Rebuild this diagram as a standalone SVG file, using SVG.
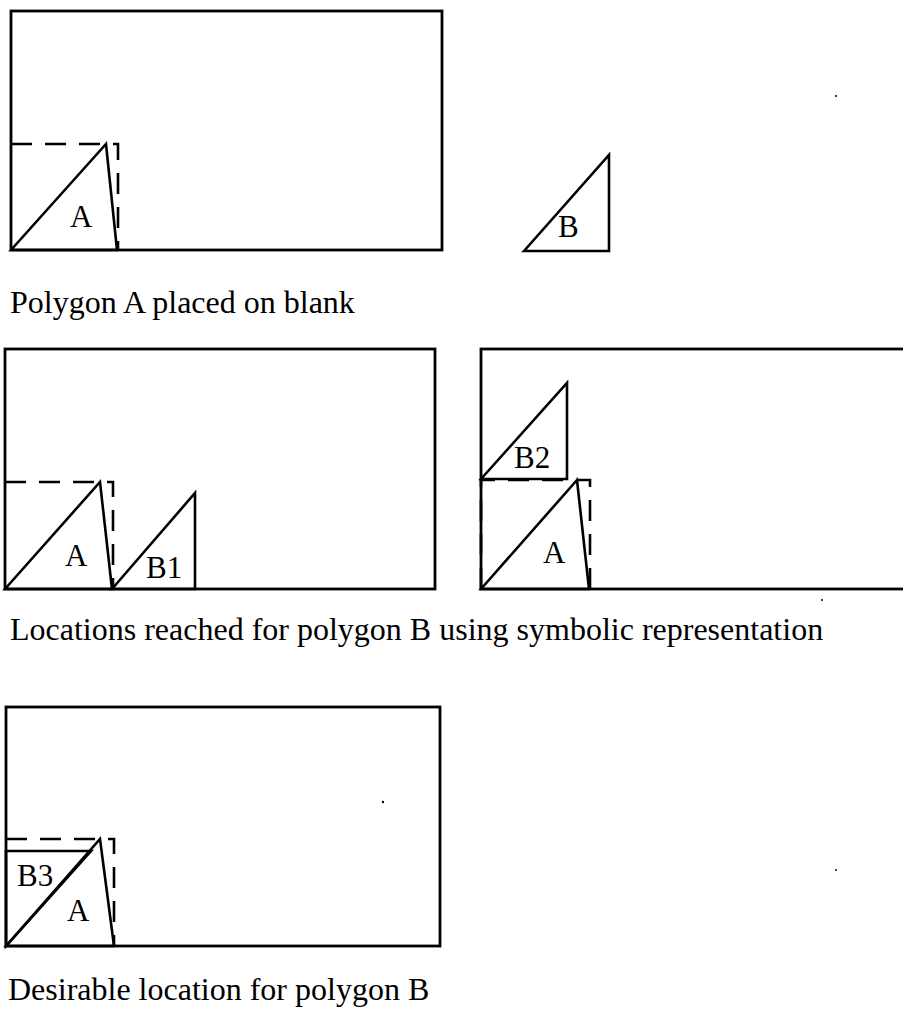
<svg xmlns="http://www.w3.org/2000/svg" width="903" height="1013" viewBox="0 0 903 1013">
<style>
.frame{fill:none;stroke:#000;stroke-width:2.8}
.poly{fill:none;stroke:#000;stroke-width:2.6;stroke-linejoin:miter}
.dash{fill:none;stroke:#000;stroke-width:2.6;stroke-dasharray:21 13}
.lbl{font-family:"Liberation Serif","Times New Roman",serif;font-size:31px;fill:#000}
.cap{font-family:"Liberation Serif","Times New Roman",serif;font-size:32px;fill:#000}
</style>
<rect width="903" height="1013" fill="#fff"/>
<g id="panel1">
  <rect class="frame" x="11" y="11" width="431" height="239"/>
  <g id="p1-A">
    <polygon class="poly" points="11,250 106,144 117,250"/>
    <path class="dash" d="M11,144 H118 V250"/>
    <text class="lbl" x="70" y="227">A</text>
  </g>
  <g id="p1-B">
    <polygon class="poly" points="524,251 609,155 609,251"/>
    <text class="lbl" x="558" y="237">B</text>
  </g>
  <text class="cap" x="10" y="313">Polygon A placed on blank</text>
</g>
<g id="panel2">
  <rect class="frame" x="5" y="349" width="430" height="240"/>
  <g id="p2-A">
    <polygon class="poly" points="5,589 100,482 112,589"/>
    <path class="dash" d="M5,482 H113 V589"/>
    <text class="lbl" x="65" y="566">A</text>
  </g>
  <g id="p2-B1">
    <polygon class="poly" points="112,589 195,493 195,589"/>
    <text class="lbl" x="146" y="578">B1</text>
  </g>
</g>
<g id="panel3">
  <rect class="frame" x="481" y="349" width="440" height="240"/>
  <g id="p3-B2">
    <polygon class="poly" points="481,479 567,383 567,479"/>
    <text class="lbl" x="514" y="468">B2</text>
  </g>
  <g id="p3-A">
    <polygon class="poly" points="481,589 577,480 589,589"/>
    <path class="dash" d="M481,589 V480 H590 V589"/>
    <text class="lbl" x="543" y="563">A</text>
  </g>
  <text class="cap" x="10" y="640">Locations reached for polygon B using symbolic representation</text>
</g>
<g id="panel4">
  <rect class="frame" x="6" y="707" width="434" height="239"/>
  <g id="p4-A">
    <polygon class="poly" points="6,946 100,839 114,946"/>
    <path class="dash" d="M6,839 H114 V946"/>
    <text class="lbl" x="67" y="921">A</text>
  </g>
  <g id="p4-B3">
    <polygon class="poly" points="6,946 6,851 91,851"/>
    <text class="lbl" x="17" y="886">B3</text>
  </g>
  <text class="cap" x="8" y="1000">Desirable location for polygon B</text>
</g>
<g id="specks" fill="#000">
  <circle cx="836" cy="96" r="1"/>
  <circle cx="383" cy="802" r="1.2"/>
  <circle cx="836" cy="870" r="1"/>
  <circle cx="822" cy="600" r="1"/>
</g>
</svg>
